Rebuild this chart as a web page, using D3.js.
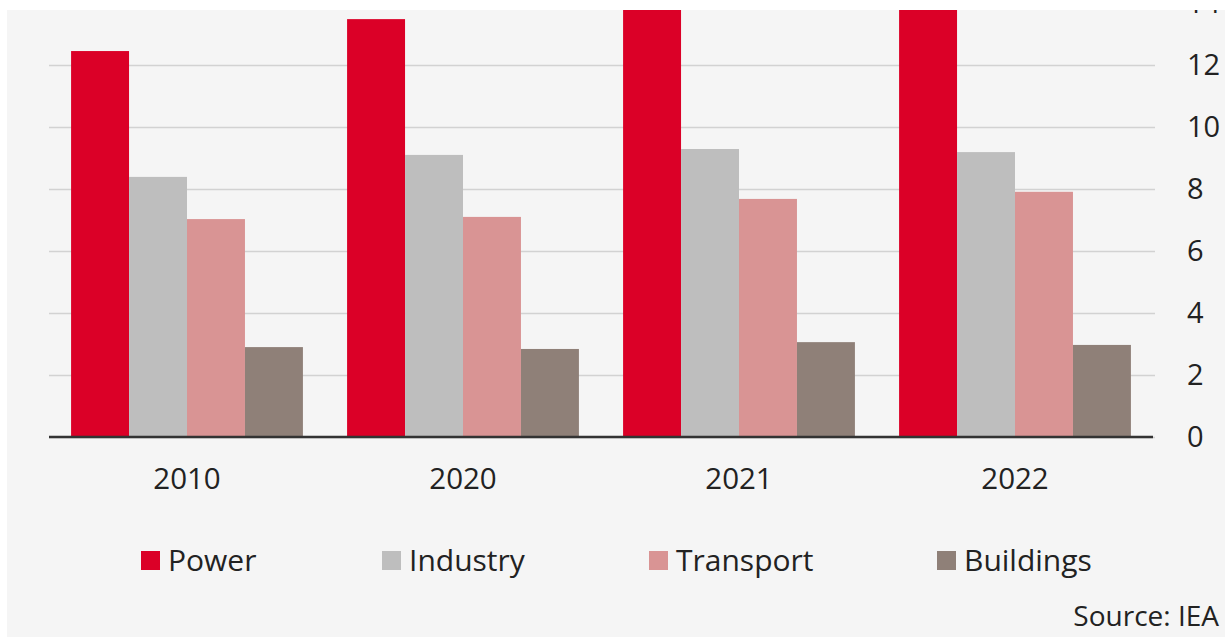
<!DOCTYPE html>
<html>
<head>
<meta charset="utf-8">
<script src="https://cdn.jsdelivr.net/npm/d3@7"></script>
<style>
  html, body { margin: 0; padding: 0; background: #ffffff; }
  svg { display: block; }
  text { font-family: "Open Sans", sans-serif; fill: #222; }
</style>
</head>
<body>
<svg id="chart" width="1225" height="639"></svg>
<script>
// CO2 emissions by sector (Gt)
const years = ["2010", "2020", "2021", "2022"];
const sectors = ["Power", "Industry", "Transport", "Buildings"];
const power     = [12.45, 13.48, 14.6, 14.7];
const industry  = [8.39, 9.10, 9.29, 9.19];
const transport = [7.03, 7.10, 7.68, 7.91];
const buildings = [2.90, 2.84, 3.06, 2.97];
const yTicks = [0, 2, 4, 6, 8, 10, 12, 14];
const colors = ["#db0027", "#bebebe", "#d99494", "#8f8078"];
const sourceText = "Source: IEA";

const seriesValues = [power, industry, transport, buildings];

const svg = d3.select("#chart");
const W = 1225, H = 639;

// panel background
svg.append("rect").attr("x", 7).attr("y", 10).attr("width", W - 7).attr("height", 627)
  .attr("fill", "#f5f5f5");

const x0 = d3.scaleBand().domain(years).range([49, 1153]).paddingInner(0.16).paddingOuter(0.08);
const x1 = d3.scaleBand().domain(sectors).range([0, x0.bandwidth()]).padding(0);
const y = d3.scaleLinear().domain([0, 14]).range([437, 3]);

// gridlines + right-side tick labels
const yAxis = d3.axisRight(y).tickValues(yTicks).tickSize(-(1155 - 49)).tickFormat(d3.format("d"));
const ga = svg.append("g").attr("transform", "translate(1155,0)").call(yAxis);
ga.select(".domain").remove();
ga.selectAll(".tick line").attr("stroke", "#d2d2d2").attr("stroke-width", 1.5);
ga.selectAll(".tick text").attr("x", 32).attr("dy", "0.34em")
  .attr("text-anchor", "start").style("font-size", "29px").attr("fill", "#222")
  .style("font-family", "'Open Sans', sans-serif");

// bars
const groups = svg.append("g").selectAll("g").data(years).join("g")
  .attr("transform", d => `translate(${x0(d)},0)`);
groups.selectAll("rect")
  .data((yr, i) => sectors.map((s, j) => ({ s, v: seriesValues[j][i], c: colors[j] })))
  .join("rect")
  .attr("x", d => x1(d.s))
  .attr("width", x1.bandwidth())
  .attr("y", d => y(d.v))
  .attr("height", d => y(0) - y(d.v))
  .attr("fill", d => d.c);

// baseline
svg.append("line").attr("x1", 49).attr("x2", 1153).attr("y1", y(0)).attr("y2", y(0))
  .attr("stroke", "#333").attr("stroke-width", 2.5);

// category axis labels
const xAxis = d3.axisBottom(x0).tickSize(0).tickPadding(0);
const gx = svg.append("g").attr("transform", "translate(0,437)").call(xAxis);
gx.select(".domain").remove();
gx.selectAll(".tick text").attr("y", 52).attr("dy", 0)
  .style("font-size", "29.5px").attr("fill", "#222")
  .style("font-family", "'Open Sans', sans-serif");

// legend
const legendX = [141, 382, 649, 937];
const leg = svg.append("g").selectAll("g").data(sectors).join("g")
  .attr("transform", (d, i) => `translate(${legendX[i]},551)`);
leg.append("rect").attr("width", 19).attr("height", 19).attr("fill", (d, i) => colors[i]);
leg.append("text").attr("x", 27).attr("y", 20).text(d => d)
  .style("font-size", "30px");

// source note
svg.append("text").attr("x", 1219).attr("y", 626).attr("text-anchor", "end")
  .style("font-size", "28px").text(sourceText);

// white strip along the top and left edges
svg.append("rect").attr("x", 0).attr("y", 0).attr("width", W).attr("height", 10).attr("fill", "#ffffff");
svg.append("rect").attr("x", 0).attr("y", 0).attr("width", 7).attr("height", H).attr("fill", "#ffffff");
</script>
</body>
</html>
